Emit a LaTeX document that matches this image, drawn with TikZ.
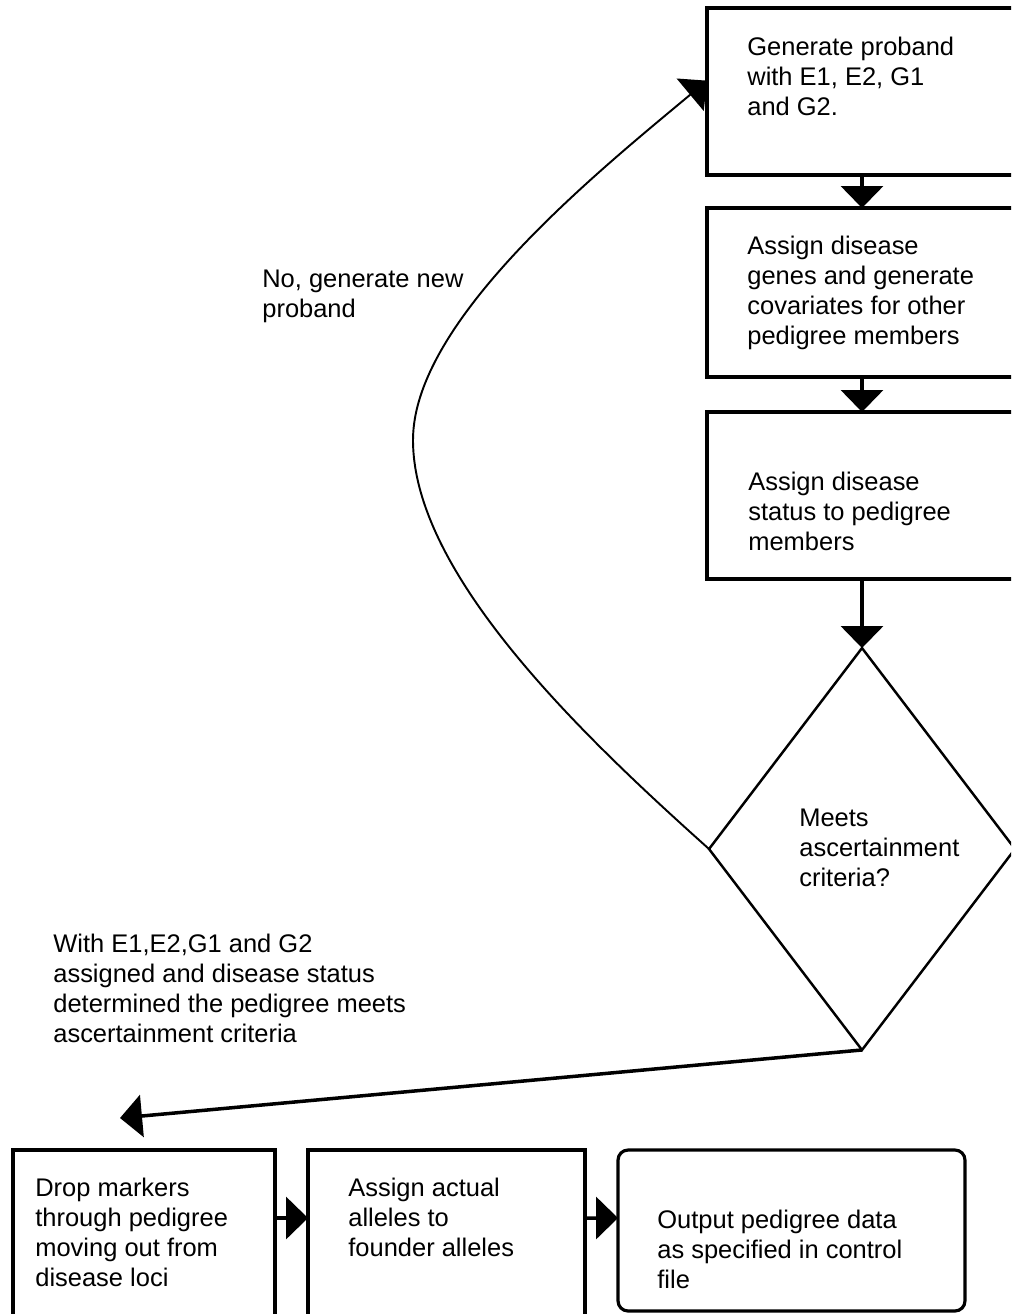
\documentclass[tikz,border=0pt]{standalone}
\usepackage{fontspec}
\setmainfont{Liberation Sans}
\usetikzlibrary{arrows.meta, shapes.geometric}

\begin{document}
\begin{tikzpicture}[x=0.02cm, y=-0.02cm,
    stepbox/.style={
        draw,
        line width=1.8pt,
        inner sep=0pt,
        outer sep=0pt
    },
    testbox/.style={
        draw,
        diamond,
        line width=1.4pt,
        inner sep=0pt,
        outer sep=0pt,
        minimum width=6.12cm,
        minimum height=8.04cm
    },
    steptext/.style={
        font=\fontsize{14.5}{17}\selectfont,
        anchor=north west,
        align=left,
        inner sep=0pt
    },
    flow/.style={
        line width=2pt,
        -{Triangle[length=0.44cm, width=0.84cm]}
    },
    loopline/.style={
        line width=1.1pt,
        -{Triangle[length=0.44cm, width=0.84cm]}
    }
]

\useasboundingbox (0,0) rectangle (1011,1314);
\fill[white] (0,0) rectangle (1011,1314);
\clip (0,0) rectangle (1011,1314);

% Right column of steps
\node[stepbox, minimum width=6.2cm, minimum height=3.34cm] (b1) at (862,91.5) {};
\node[stepbox, minimum width=6.2cm, minimum height=3.38cm] (b2) at (862,292.5) {};
\node[stepbox, minimum width=6.2cm, minimum height=3.34cm] (b3) at (862,495.5) {};
\node[testbox] (dec) at (862,849) {};

% Bottom row of steps
\node[stepbox, minimum width=5.24cm, minimum height=3.8cm] (b4) at (144,1245) {};
\node[stepbox, minimum width=5.54cm, minimum height=3.8cm] (b5) at (446.5,1245) {};
\node[stepbox, rounded corners=0.2cm, minimum width=6.94cm, minimum height=3.22cm] (b6) at (791.5,1230.5) {};

% Texts
\node[steptext] (t1) at (747,37) {Generate proband\\with E1, E2, G1\\and G2.};
\node[steptext] (t2) at (747,236) {Assign disease\\genes and generate\\covariates for other\\pedigree members};
\node[steptext] (t3) at (748,472) {Assign disease\\status to pedigree\\members};
\node[steptext] (tdec) at (799,809) {Meets\\ascertainment\\criteria?};
\node[steptext] (tno) at (262,270) {No, generate new\\proband};
\node[steptext] (tyes) at (53,934) {With E1,E2,G1 and G2\\assigned and disease status\\determined the pedigree meets\\ascertainment criteria};
\node[steptext] (t4) at (35,1178) {Drop markers\\through pedigree\\moving out from\\disease loci};
\node[steptext] (t5) at (348,1178) {Assign actual\\alleles to\\founder alleles};
\node[steptext] (t6) at (657,1210) {Output pedigree data\\as specified in control\\file};

% Connectors
\coordinate (bend) at (413,440);
\coordinate (drop) at (120,1118);
\draw[flow] (b1.south) -- (b2.north);
\draw[flow] (b2.south) -- (b3.north);
\draw[flow] (b3.south) -- (dec.north);
\draw[loopline] (dec.west) .. controls (585,738) and (413,575) .. (bend)
    .. controls (413,320) and (600,170) .. (b1.176);
\draw[flow] (dec.south) -- (drop);
\draw[flow] ([yshift=-1.36cm]b4.north east) -- ([yshift=-1.36cm]b5.north west);
\draw[flow] ([yshift=-1.36cm]b5.north east) -- ([yshift=-1.36cm]b6.north west);

\end{tikzpicture}
\end{document}
